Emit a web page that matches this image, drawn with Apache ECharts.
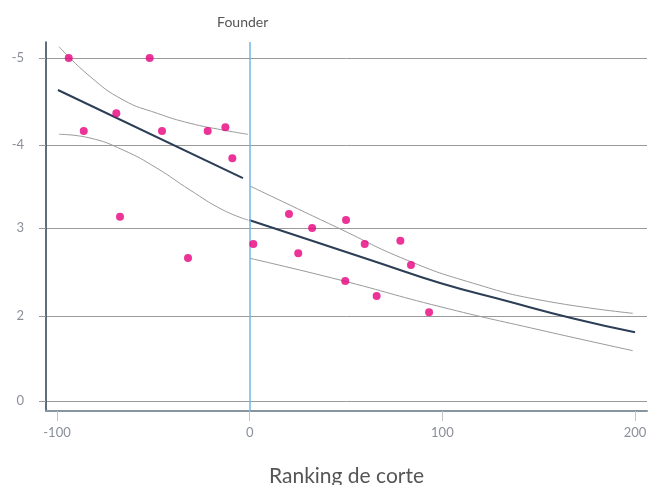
<!DOCTYPE html>
<html>
<head>
<meta charset="utf-8">
<script src="https://cdn.jsdelivr.net/npm/echarts@6/dist/echarts.min.js"></script>
<style>
  html, body { margin: 0; padding: 0; background: #fff; }
  #chart { width: 649px; height: 485px; }
</style>
</head>
<body>
<div id="chart"></div>
<script>
// observed points
const pointX = [-93.9, -51.9, -86.1, -69.2, -45.5, -21.8, -12.6, -9.0, -67.3, -32.0,
  1.9, 20.4, 25.2, 32.4, 50.0, 59.7, 78.2, 83.7, 49.6, 65.9, 93.1];
const pointY = [4.0, 4.0, 3.149, 3.355, 3.149, 3.149, 3.192, 2.83, 2.149, 1.668,
  1.831, 2.181, 1.723, 2.017, 2.111, 1.831, 1.869, 1.586, 1.399, 1.224, 1.034];

// fitted line, left of the cutoff
const fitLeftX = [-99.5, -3.5];
const fitLeftY = [3.627, 2.60];
// fitted line, right of the cutoff
const fitRightX = [-0.35, 29.6, 64.17, 98.79, 133.41, 167.97, 200];
const fitRightY = [2.111, 1.889, 1.633, 1.376, 1.166, 0.962, 0.801];

// confidence bands
const upperLeftX = [-98.96, -82.87, -65.74, -47.99, -30.97, -13.84, -0.87];
const upperLeftY = [4.132, 3.785, 3.512, 3.355, 3.239, 3.160, 3.110];
const lowerLeftX = [-99, -82.9, -65.7, -48.3, -31, -13.8, -0.9];
const lowerLeftY = [3.110, 3.067, 2.927, 2.717, 2.461, 2.227, 2.111];
const upperRightX = [0.17, 45.17, 81.5, 116.07, 150.67, 198.8];
const upperRightY = [2.507, 2.026, 1.644, 1.373, 1.178, 1.023];
const lowerRightX = [0.17, 46.88, 98.79, 150.69, 198.8];
const lowerRightY = [1.664, 1.411, 1.100, 0.828, 0.587];

// axis ticks
const xTickValues = [-100, 0, 100, 200];
const yTickValues = [0, 0.991, 2.017, 2.985, 4.0];
const yTickLabels = ['0', '2', '3', '-4', '-5'];

const cutoff = 0;

const zip = (xs, ys) => xs.map((x, i) => [x, ys[i]]);

const chart = echarts.init(document.getElementById('chart'));

const bandStyle = { color: '#9a9a9a', width: 1 };
const fitStyle = { color: '#2c3e55', width: 2 };

const curve = (xs, ys, style, z) => ({
  type: 'line',
  data: zip(xs, ys),
  smooth: true,
  showSymbol: false,
  lineStyle: style,
  z: z
});

const option = {
  backgroundColor: '#fff',
  animation: false,
  textStyle: { fontFamily: 'Lato' },
  grid: {
    left: 46,
    right: 2,
    top: 42,
    bottom: 74,
    outerBoundsMode: 'none'
  },
  xAxis: {
    type: 'value',
    min: -105.7,
    max: 206.2,
    name: 'Ranking de corte',
    nameLocation: 'middle',
    nameGap: 55,
    nameTextStyle: {
      color: '#555',
      fontSize: 21,
      fontFamily: 'Lato'
    },
    axisLine: {
      show: true,
      onZero: false,
      lineStyle: { color: '#8795a1', width: 2 }
    },
    axisTick: {
      show: true,
      customValues: xTickValues,
      length: 10,
      lineStyle: { color: '#c4c4c4' }
    },
    axisLabel: {
      customValues: xTickValues,
      color: '#8a8f99',
      fontSize: 13,
      margin: 15,
      fontFamily: 'Lato'
    },
    splitLine: { show: false }
  },
  yAxis: {
    type: 'value',
    min: -0.1166,
    max: 4.1866,
    axisLine: {
      show: true,
      onZero: false,
      lineStyle: { color: '#2c3e50', width: 1.5 }
    },
    axisTick: {
      show: true,
      customValues: yTickValues,
      length: 7,
      lineStyle: { color: '#9a9a9a' }
    },
    axisLabel: {
      customValues: yTickValues,
      formatter: v => {
        const i = yTickValues.findIndex(t => Math.abs(t - v) < 1e-6);
        return i >= 0 ? yTickLabels[i] : '';
      },
      color: '#8a8f99',
      fontSize: 13,
      margin: 22,
      fontFamily: 'Lato'
    },
    splitLine: {
      show: true,
      lineStyle: { color: '#9a9a9a', width: 1 }
    }
  },
  series: [
    curve(upperLeftX, upperLeftY, bandStyle, 2),
    curve(lowerLeftX, lowerLeftY, bandStyle, 2),
    curve(upperRightX, upperRightY, bandStyle, 2),
    curve(lowerRightX, lowerRightY, bandStyle, 2),
    {
      type: 'line',
      data: zip(fitLeftX, fitLeftY),
      showSymbol: false,
      lineStyle: fitStyle,
      z: 3
    },
    Object.assign(curve(fitRightX, fitRightY, fitStyle, 3), {
      markLine: {
        silent: true,
        symbol: 'none',
        lineStyle: { color: '#74b4e4', width: 1.5, type: 'solid' },
        label: {
          show: true,
          position: 'end',
          formatter: 'Founder',
          color: '#555',
          fontSize: 14,
          fontFamily: 'Lato',
          distance: 13,
          padding: [0, 14, 0, 0]
        },
        data: [{ xAxis: cutoff }]
      }
    }),
    {
      type: 'scatter',
      data: zip(pointX, pointY),
      symbolSize: 8,
      itemStyle: { color: '#e6007e' },
      z: 5
    }
  ]
};

chart.setOption(option);
</script>
</body>
</html>
